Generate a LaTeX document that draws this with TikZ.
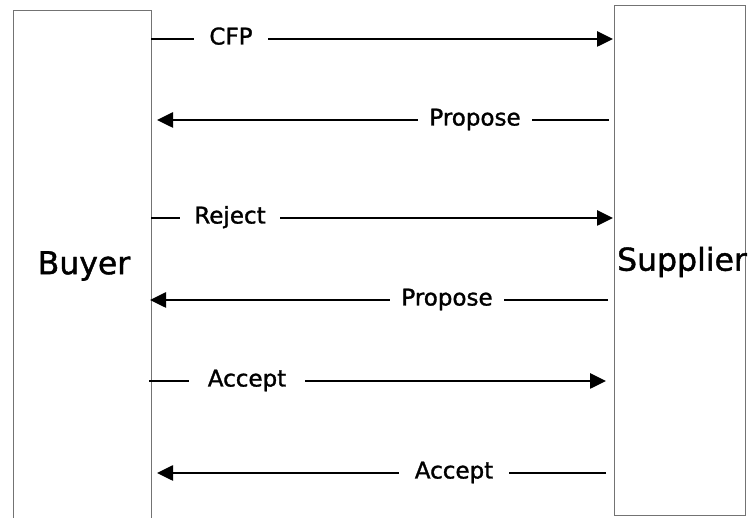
\documentclass[tikz,border=0pt]{standalone}
\usepackage{fontspec}
\setmainfont{DejaVu Sans}[BoldFont={DejaVu Sans},BoldFeatures={FakeBold=1.3}]
\usetikzlibrary{arrows.meta}
\begin{document}
\begin{tikzpicture}[x=1pt,y=-1pt,
  party/.style={draw=black!55,line width=1pt,rectangle,inner sep=0pt,anchor=north west},
  msg/.style={line width=2.6pt,-{Triangle[length=16pt,width=15pt]}},
  lbl/.style={fill=white,inner sep=0pt,outer sep=0pt,minimum height=16pt,text height=16pt,text depth=5pt,font=\fontsize{23}{25}\selectfont\bfseries},
  big/.style={font=\fontsize{31.5}{34}\selectfont\bfseries}]
\clip (0,0) rectangle (748,518);
\useasboundingbox (0,0) rectangle (748,518);
\node[party,minimum width=138pt,minimum height=530pt] (buyer) at (13,10) {};
\node[party,minimum width=131pt,minimum height=510pt] (sup) at (614,5) {};
\node[big] (bl) at (84,266) {Buyer};
\node[big] (sl) at (682,262) {Supplier};
% messages
\coordinate (a1s) at (151,39);  \coordinate (a1e) at (613,39);
\coordinate (a2s) at (609,120); \coordinate (a2e) at (157,120);
\coordinate (a3s) at (151,218); \coordinate (a3e) at (613,218);
\coordinate (a4s) at (608,300); \coordinate (a4e) at (150,300);
\coordinate (a5s) at (149,381); \coordinate (a5e) at (606,381);
\coordinate (a6s) at (606,473); \coordinate (a6e) at (157,473);
\draw[msg] (a1s) -- (a1e);
\node[lbl,minimum width=74pt] (l1) at (231,39) {CFP};
\draw[msg] (a2s) -- (a2e);
\node[lbl,minimum width=114pt] (l2) at (475,120) {Propose};
\draw[msg] (a3s) -- (a3e);
\node[lbl,minimum width=100pt] (l3) at (230,218) {Reject};
\draw[msg] (a4s) -- (a4e);
\node[lbl,minimum width=114pt] (l4) at (447,300) {Propose};
\draw[msg] (a5s) -- (a5e);
\node[lbl,minimum width=116pt] (l5) at (247,381) {Accept};
\draw[msg] (a6s) -- (a6e);
\node[lbl,minimum width=110pt] (l6) at (454,473) {Accept};
\end{tikzpicture}
\end{document}
